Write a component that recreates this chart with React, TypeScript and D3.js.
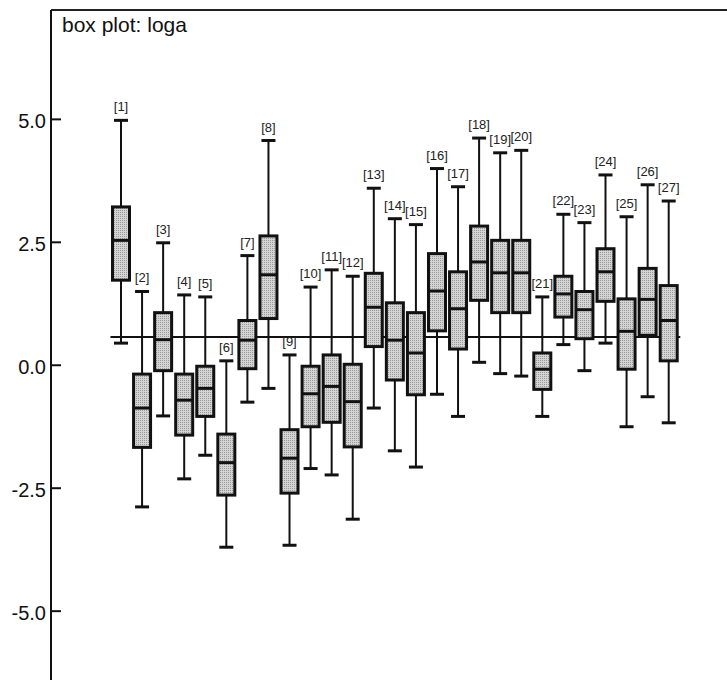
import React from "react";
import * as d3 from "d3";

const labels = ["[1]","[2]","[3]","[4]","[5]","[6]","[7]","[8]","[9]","[10]","[11]","[12]","[13]","[14]","[15]","[16]","[17]","[18]","[19]","[20]","[21]","[22]","[23]","[24]","[25]","[26]","[27]"];
const whiskerHigh = [4.98,1.50,2.49,1.43,1.39,0.09,2.23,4.57,0.21,1.59,1.94,1.81,3.60,2.98,2.86,4.00,3.63,4.62,4.32,4.37,1.39,3.07,2.90,3.87,3.02,3.67,3.34];
const q3 = [3.22,-0.18,1.07,-0.18,-0.02,-1.40,0.91,2.63,-1.31,-0.02,0.21,0.02,1.87,1.27,1.07,2.27,1.90,2.83,2.54,2.54,0.25,1.81,1.50,2.37,1.35,1.97,1.62];
const median = [2.54,-0.87,0.52,-0.71,-0.47,-1.98,0.51,1.84,-1.89,-0.58,-0.43,-0.74,1.18,0.51,0.25,1.51,1.15,2.10,1.88,1.88,-0.08,1.45,1.13,1.90,0.69,1.34,0.91];
const q1 = [1.73,-1.67,-0.11,-1.42,-1.04,-2.64,-0.07,0.95,-2.60,-1.25,-1.16,-1.66,0.38,-0.30,-0.60,0.70,0.33,1.32,1.07,1.07,-0.49,0.98,0.54,1.30,-0.08,0.61,0.09];
const whiskerLow = [0.45,-2.88,-1.03,-2.31,-1.83,-3.70,-0.75,-0.47,-3.66,-2.10,-2.23,-3.13,-0.87,-1.74,-2.07,-0.59,-1.04,0.06,-0.17,-0.22,-1.04,0.42,-0.11,0.45,-1.25,-0.64,-1.17];
const refValue = 0.575;
const yTicks = [5.0, 2.5, 0.0, -2.5, -5.0];
const title = "box plot: loga";

const W = 727, H = 680;
const axisX = 51, topY = 10;

export default function App() {
  const x = d3.scaleLinear().domain([1, 27]).range([121, 668.7]);
  const y = d3.scaleLinear().domain([-6.4, 7.224]).range([680, 10]);
  const boxHalf = 8.5, capHalf = 7;
  const font = "'Liberation Sans', Arial, sans-serif";
  return (
    <svg width={W} height={H} style={{ position: "absolute", left: 0, top: 0, background: "#fff" }}>
      <defs>
        <pattern id="dots" width="2" height="2" patternUnits="userSpaceOnUse">
          <rect width="2" height="2" fill="#d4d4d4" />
          <rect width="1" height="1" fill="#999" />
        </pattern>
      </defs>
      <rect x={0} y={0} width={W} height={H} fill="#fff" />
      <line x1={axisX} x2={W} y1={topY} y2={topY} stroke="#222" strokeWidth={2} />
      <line x1={axisX} x2={axisX} y1={topY} y2={H} stroke="#111" strokeWidth={2} />
      <text x={62} y={32} fontFamily={font} fontSize={21} fill="#111">{title}</text>
      {yTicks.map((t) => (
        <g key={t}>
          <line x1={axisX} x2={axisX + 10} y1={y(t)} y2={y(t)} stroke="#111" strokeWidth={2} />
          <text x={46} y={y(t) + 9} textAnchor="end" fontFamily={font} fontSize={20} fill="#111">
            {t.toFixed(1)}
          </text>
        </g>
      ))}
      <line x1={x(0.5)} x2={x(27.55)} y1={y(refValue)} y2={y(refValue)} stroke="#111" strokeWidth={1.8} />
      {labels.map((lab, i) => {
        const cx = x(i + 1);
        return (
          <g key={lab}>
            <line x1={cx} x2={cx} y1={y(whiskerHigh[i])} y2={y(whiskerLow[i])} stroke="#111" strokeWidth={2} />
            <line x1={cx - capHalf} x2={cx + capHalf} y1={y(whiskerHigh[i])} y2={y(whiskerHigh[i])} stroke="#111" strokeWidth={3} />
            <line x1={cx - capHalf} x2={cx + capHalf} y1={y(whiskerLow[i])} y2={y(whiskerLow[i])} stroke="#111" strokeWidth={3} />
            <rect x={cx - boxHalf} y={y(q3[i])} width={boxHalf * 2} height={y(q1[i]) - y(q3[i])}
              fill="url(#dots)" stroke="#111" strokeWidth={3} />
            <line x1={cx - boxHalf} x2={cx + boxHalf} y1={y(median[i])} y2={y(median[i])} stroke="#111" strokeWidth={3} />
            <text x={cx} y={y(whiskerHigh[i]) - 9} textAnchor="middle" fontFamily={font} fontSize={13} fill="#222">
              {lab}
            </text>
          </g>
        );
      })}
    </svg>
  );
}
